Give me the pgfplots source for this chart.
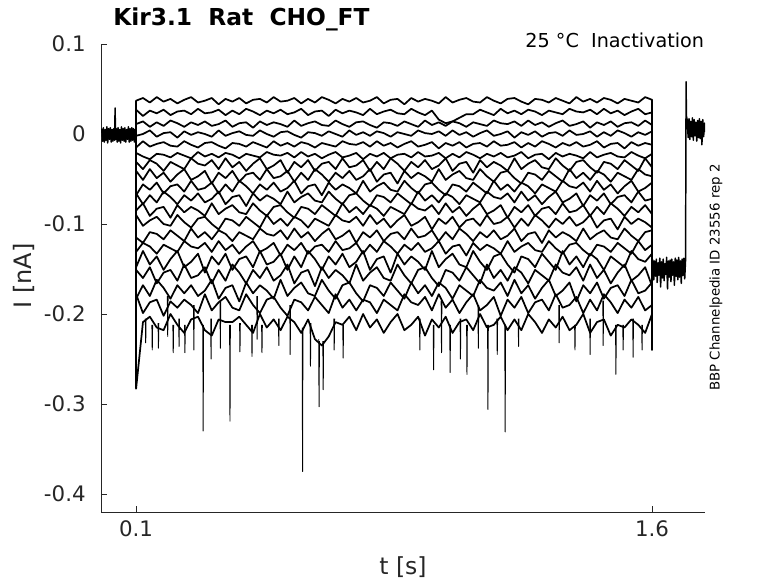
\documentclass[border=0pt]{standalone}
\usepackage{fontspec}
\setmainfont{DejaVu Sans}
\usepackage{pgfplots}
\usepackage{pgfplotstable}
\pgfplotsset{compat=1.18}
\definecolor{axgray}{RGB}{38,38,38}
\tikzset{trace/.style={black, line width=1.3pt, line join=round, mark=none}}

\pgfplotstableread{
t s1 s2 s3 s4 s5 s6 s7 s8 s9 s10 s11 s12 s13 s14 s15 s16 s17 s18 s19
0.10 0 0 0 0 0 0 0 0 0 0 0 0 0 0 0 0 0 0 0
0.10 0.037 0.027 0.011 -0.002 -0.015 -0.021 -0.031 -0.041 -0.068 -0.066 -0.085 -0.090 -0.115 -0.131 -0.148 -0.151 -0.183 -0.178 -0.283
0.12 0.040 0.020 0.014 0.000 -0.008 -0.025 -0.039 -0.051 -0.056 -0.078 -0.077 -0.102 -0.121 -0.121 -0.130 -0.160 -0.168 -0.199 -0.209
0.14 0.035 0.026 0.008 0.004 -0.014 -0.028 -0.029 -0.039 -0.062 -0.068 -0.091 -0.096 -0.109 -0.125 -0.145 -0.148 -0.180 -0.187 -0.203
0.16 0.041 0.023 0.013 -0.003 -0.011 -0.022 -0.033 -0.049 -0.054 -0.076 -0.083 -0.092 -0.111 -0.133 -0.136 -0.166 -0.162 -0.184 -0.215
0.18 0.036 0.027 0.009 0.001 -0.009 -0.023 -0.041 -0.043 -0.066 -0.064 -0.081 -0.100 -0.117 -0.123 -0.151 -0.154 -0.171 -0.202 -0.218
0.20 0.039 0.021 0.015 0.002 -0.013 -0.026 -0.031 -0.053 -0.058 -0.070 -0.093 -0.102 -0.107 -0.127 -0.139 -0.151 -0.183 -0.186 -0.200
0.22 0.034 0.025 0.012 -0.004 -0.014 -0.021 -0.035 -0.045 -0.056 -0.078 -0.079 -0.090 -0.113 -0.131 -0.130 -0.163 -0.168 -0.193 -0.212
0.24 0.038 0.026 0.008 0.003 -0.008 -0.024 -0.039 -0.039 -0.064 -0.068 -0.087 -0.098 -0.119 -0.119 -0.148 -0.145 -0.177 -0.184 -0.221
0.26 0.041 0.022 0.013 -0.001 -0.012 -0.027 -0.027 -0.051 -0.052 -0.074 -0.081 -0.104 -0.105 -0.125 -0.142 -0.160 -0.168 -0.190 -0.206
0.28 0.035 0.028 0.010 0.002 -0.015 -0.020 -0.033 -0.047 -0.062 -0.066 -0.085 -0.094 -0.115 -0.127 -0.133 -0.157 -0.180 -0.199 -0.203
0.30 0.037 0.023 0.014 0.000 -0.010 -0.025 -0.035 -0.041 -0.060 -0.076 -0.091 -0.092 -0.109 -0.121 -0.154 -0.148 -0.174 -0.178 -0.218
0.32 0.040 0.024 0.009 -0.003 -0.009 -0.022 -0.029 -0.055 -0.054 -0.072 -0.077 -0.100 -0.117 -0.131 -0.136 -0.166 -0.162 -0.196 -0.224
0.34 0.033 0.027 0.011 0.004 -0.013 -0.026 -0.039 -0.043 -0.066 -0.064 -0.089 -0.106 -0.107 -0.119 -0.145 -0.151 -0.183 -0.187 -0.206
0.36 0.039 0.021 0.015 -0.002 -0.016 -0.021 -0.027 -0.049 -0.056 -0.078 -0.083 -0.094 -0.111 -0.129 -0.133 -0.163 -0.171 -0.181 -0.209
0.38 0.036 0.026 0.008 0.001 -0.010 -0.023 -0.037 -0.041 -0.064 -0.070 -0.079 -0.096 -0.119 -0.123 -0.151 -0.145 -0.168 -0.193 -0.209
0.40 0.040 0.022 0.012 0.003 -0.011 -0.027 -0.031 -0.053 -0.052 -0.068 -0.087 -0.102 -0.109 -0.133 -0.139 -0.154 -0.186 -0.196 -0.203
0.42 0.034 0.028 0.013 -0.001 -0.014 -0.022 -0.041 -0.045 -0.058 -0.080 -0.089 -0.092 -0.113 -0.125 -0.136 -0.166 -0.165 -0.178 -0.212
0.44 0.038 0.025 0.007 -0.002 -0.009 -0.024 -0.033 -0.043 -0.066 -0.066 -0.077 -0.098 -0.117 -0.119 -0.148 -0.151 -0.177 -0.190 -0.221
0.46 0.039 0.021 0.014 0.004 -0.012 -0.026 -0.027 -0.051 -0.056 -0.074 -0.085 -0.104 -0.105 -0.131 -0.130 -0.160 -0.168 -0.199 -0.200
0.48 0.035 0.026 0.010 0.000 -0.015 -0.020 -0.039 -0.039 -0.062 -0.068 -0.091 -0.090 -0.111 -0.127 -0.145 -0.148 -0.174 -0.184 -0.215
0.50 0.041 0.023 0.013 -0.003 -0.008 -0.023 -0.035 -0.049 -0.054 -0.072 -0.081 -0.100 -0.113 -0.121 -0.142 -0.163 -0.183 -0.181 -0.206
0.52 0.036 0.027 0.011 0.002 -0.013 -0.024 -0.029 -0.047 -0.064 -0.078 -0.079 -0.094 -0.107 -0.135 -0.133 -0.157 -0.162 -0.193 -0.218
0.54 0.037 0.022 0.008 0.003 -0.010 -0.021 -0.043 -0.041 -0.060 -0.064 -0.087 -0.102 -0.117 -0.123 -0.151 -0.145 -0.180 -0.202 -0.203
0.56 0.040 0.024 0.015 -0.001 -0.014 -0.026 -0.031 -0.053 -0.052 -0.076 -0.093 -0.092 -0.105 -0.129 -0.136 -0.166 -0.171 -0.184 -0.209
0.58 0.034 0.028 0.009 -0.004 -0.009 -0.020 -0.037 -0.043 -0.066 -0.070 -0.081 -0.096 -0.115 -0.121 -0.148 -0.154 -0.165 -0.187 -0.221
0.60 0.039 0.021 0.012 0.002 -0.011 -0.025 -0.029 -0.051 -0.058 -0.066 -0.083 -0.104 -0.109 -0.133 -0.130 -0.151 -0.177 -0.196 -0.206
0.62 0.035 0.025 0.014 0.001 -0.015 -0.022 -0.041 -0.039 -0.056 -0.074 -0.089 -0.094 -0.119 -0.125 -0.139 -0.169 -0.180 -0.181 -0.228
0.64 0.041 0.026 0.010 -0.002 -0.010 -0.027 -0.033 -0.045 -0.068 -0.076 -0.079 -0.098 -0.111 -0.123 -0.151 -0.148 -0.162 -0.190 -0.235
0.66 0.038 0.020 0.009 0.003 -0.012 -0.023 -0.031 -0.053 -0.054 -0.064 -0.085 -0.102 -0.105 -0.131 -0.136 -0.160 -0.174 -0.199 -0.225
0.68 0.034 0.027 0.015 0.000 -0.014 -0.020 -0.039 -0.043 -0.062 -0.072 -0.091 -0.090 -0.117 -0.119 -0.145 -0.151 -0.183 -0.178 -0.209
0.70 0.039 0.023 0.011 -0.003 -0.008 -0.026 -0.027 -0.049 -0.056 -0.078 -0.077 -0.096 -0.113 -0.129 -0.133 -0.157 -0.168 -0.193 -0.212
0.72 0.036 0.026 0.008 0.004 -0.011 -0.024 -0.037 -0.041 -0.060 -0.068 -0.087 -0.098 -0.107 -0.127 -0.148 -0.166 -0.165 -0.184 -0.203
0.74 0.040 0.024 0.013 -0.001 -0.012 -0.021 -0.035 -0.051 -0.066 -0.066 -0.081 -0.092 -0.121 -0.121 -0.142 -0.145 -0.177 -0.196 -0.218
0.76 0.035 0.021 0.014 0.002 -0.009 -0.028 -0.029 -0.047 -0.052 -0.074 -0.089 -0.102 -0.109 -0.133 -0.130 -0.163 -0.186 -0.184 -0.200
0.78 0.037 0.028 0.010 -0.002 -0.014 -0.022 -0.041 -0.039 -0.064 -0.080 -0.079 -0.090 -0.115 -0.123 -0.151 -0.154 -0.168 -0.187 -0.215
0.80 0.041 0.022 0.007 0.003 -0.008 -0.025 -0.031 -0.053 -0.058 -0.068 -0.083 -0.100 -0.107 -0.131 -0.139 -0.148 -0.171 -0.199 -0.206
0.82 0.034 0.025 0.013 0.001 -0.013 -0.021 -0.039 -0.045 -0.054 -0.070 -0.091 -0.094 -0.119 -0.119 -0.136 -0.160 -0.180 -0.184 -0.221
0.84 0.038 0.027 0.012 -0.003 -0.010 -0.027 -0.027 -0.043 -0.062 -0.076 -0.081 -0.104 -0.111 -0.125 -0.154 -0.163 -0.165 -0.190 -0.209
0.86 0.039 0.023 0.009 0.002 -0.015 -0.023 -0.033 -0.055 -0.064 -0.066 -0.085 -0.096 -0.109 -0.133 -0.133 -0.145 -0.174 -0.196 -0.200
0.88 0.033 0.022 0.014 0.000 -0.011 -0.022 -0.041 -0.041 -0.052 -0.072 -0.089 -0.090 -0.117 -0.123 -0.145 -0.157 -0.183 -0.178 -0.218
0.90 0.040 0.028 0.011 -0.002 -0.008 -0.026 -0.031 -0.049 -0.060 -0.078 -0.077 -0.102 -0.105 -0.129 -0.136 -0.166 -0.165 -0.187 -0.212
0.92 0.036 0.024 0.008 0.004 -0.014 -0.020 -0.037 -0.043 -0.066 -0.064 -0.083 -0.098 -0.115 -0.121 -0.142 -0.151 -0.177 -0.190 -0.203
0.94 0.039 0.021 0.015 0.001 -0.012 -0.025 -0.029 -0.047 -0.056 -0.074 -0.085 -0.092 -0.113 -0.131 -0.151 -0.148 -0.168 -0.181 -0.224
0.96 0.037 0.026 0.010 0.000 -0.009 -0.024 -0.039 -0.053 -0.054 -0.068 -0.079 -0.106 -0.107 -0.127 -0.130 -0.160 -0.180 -0.196 -0.206
0.98 0.034 0.016 0.013 0.003 -0.016 -0.021 -0.035 -0.039 -0.062 -0.076 -0.089 -0.094 -0.119 -0.119 -0.148 -0.169 -0.165 -0.178 -0.215
1.00 0.041 0.012 0.009 -0.002 -0.010 -0.027 -0.027 -0.051 -0.068 -0.066 -0.077 -0.100 -0.109 -0.133 -0.139 -0.151 -0.171 -0.193 -0.203
1.02 0.035 0.014 0.014 0.004 -0.013 -0.022 -0.041 -0.045 -0.056 -0.070 -0.087 -0.092 -0.117 -0.125 -0.133 -0.154 -0.183 -0.184 -0.221
1.04 0.038 0.018 0.012 -0.001 -0.009 -0.026 -0.033 -0.041 -0.058 -0.078 -0.081 -0.104 -0.105 -0.123 -0.145 -0.163 -0.168 -0.199 -0.209
1.06 0.040 0.022 0.008 0.002 -0.015 -0.020 -0.031 -0.049 -0.064 -0.068 -0.091 -0.096 -0.111 -0.135 -0.148 -0.148 -0.174 -0.187 -0.206
1.08 0.036 0.022 0.013 -0.003 -0.011 -0.023 -0.043 -0.051 -0.054 -0.072 -0.083 -0.094 -0.119 -0.121 -0.130 -0.157 -0.180 -0.178 -0.218
1.10 0.035 0.027 0.011 0.001 -0.010 -0.027 -0.029 -0.039 -0.060 -0.076 -0.077 -0.102 -0.109 -0.129 -0.142 -0.166 -0.162 -0.196 -0.200
1.12 0.041 0.024 0.009 0.004 -0.014 -0.022 -0.037 -0.047 -0.066 -0.064 -0.089 -0.090 -0.115 -0.123 -0.151 -0.145 -0.171 -0.190 -0.215
1.14 0.037 0.021 0.015 -0.002 -0.008 -0.025 -0.031 -0.053 -0.052 -0.070 -0.085 -0.100 -0.107 -0.127 -0.136 -0.160 -0.174 -0.181 -0.212
1.16 0.034 0.028 0.012 0.000 -0.013 -0.021 -0.035 -0.043 -0.062 -0.072 -0.079 -0.098 -0.117 -0.133 -0.133 -0.151 -0.165 -0.202 -0.203
1.18 0.039 0.023 0.011 0.003 -0.012 -0.026 -0.041 -0.041 -0.056 -0.066 -0.093 -0.092 -0.113 -0.119 -0.145 -0.163 -0.180 -0.184 -0.218
1.20 0.040 0.026 0.014 -0.004 -0.009 -0.024 -0.027 -0.049 -0.064 -0.076 -0.081 -0.104 -0.105 -0.131 -0.154 -0.148 -0.162 -0.193 -0.206
1.22 0.036 0.022 0.009 0.002 -0.015 -0.020 -0.039 -0.055 -0.054 -0.064 -0.087 -0.094 -0.119 -0.125 -0.136 -0.154 -0.177 -0.181 -0.218
1.24 0.033 0.027 0.015 -0.001 -0.010 -0.027 -0.033 -0.043 -0.058 -0.074 -0.079 -0.102 -0.111 -0.121 -0.139 -0.166 -0.168 -0.199 -0.200
1.26 0.039 0.025 0.010 0.003 -0.014 -0.023 -0.029 -0.045 -0.066 -0.068 -0.091 -0.090 -0.109 -0.129 -0.148 -0.151 -0.183 -0.187 -0.209
1.28 0.038 0.021 0.013 -0.003 -0.008 -0.022 -0.037 -0.051 -0.056 -0.078 -0.083 -0.096 -0.121 -0.131 -0.133 -0.157 -0.171 -0.184 -0.221
1.30 0.035 0.026 0.008 0.001 -0.011 -0.028 -0.039 -0.041 -0.060 -0.070 -0.081 -0.104 -0.107 -0.119 -0.142 -0.163 -0.162 -0.196 -0.206
1.32 0.040 0.024 0.012 0.002 -0.015 -0.021 -0.027 -0.047 -0.064 -0.064 -0.089 -0.094 -0.115 -0.127 -0.151 -0.145 -0.180 -0.178 -0.215
1.34 0.037 0.022 0.015 -0.002 -0.010 -0.025 -0.035 -0.053 -0.052 -0.076 -0.077 -0.100 -0.109 -0.133 -0.130 -0.154 -0.174 -0.193 -0.203
1.36 0.034 0.028 0.009 0.004 -0.013 -0.022 -0.041 -0.039 -0.058 -0.072 -0.087 -0.092 -0.113 -0.123 -0.145 -0.157 -0.165 -0.190 -0.218
1.38 0.041 0.025 0.011 -0.001 -0.009 -0.024 -0.031 -0.049 -0.060 -0.066 -0.085 -0.102 -0.119 -0.121 -0.136 -0.148 -0.186 -0.181 -0.212
1.40 0.036 0.024 0.014 0.000 -0.014 -0.027 -0.029 -0.043 -0.054 -0.080 -0.079 -0.098 -0.105 -0.129 -0.148 -0.163 -0.168 -0.199 -0.200
1.42 0.039 0.027 0.007 0.003 -0.012 -0.020 -0.037 -0.051 -0.064 -0.068 -0.091 -0.090 -0.117 -0.135 -0.133 -0.145 -0.177 -0.184 -0.221
1.44 0.035 0.022 0.013 -0.003 -0.008 -0.026 -0.043 -0.041 -0.052 -0.074 -0.081 -0.104 -0.111 -0.123 -0.139 -0.160 -0.165 -0.196 -0.209
1.46 0.040 0.028 0.010 0.002 -0.015 -0.023 -0.031 -0.045 -0.062 -0.066 -0.089 -0.096 -0.107 -0.125 -0.151 -0.151 -0.183 -0.178 -0.206
1.48 0.038 0.023 0.014 -0.002 -0.011 -0.021 -0.033 -0.053 -0.056 -0.078 -0.077 -0.094 -0.115 -0.131 -0.136 -0.166 -0.171 -0.187 -0.224
1.50 0.034 0.026 0.008 0.004 -0.010 -0.025 -0.039 -0.043 -0.066 -0.070 -0.083 -0.106 -0.117 -0.121 -0.142 -0.154 -0.168 -0.199 -0.212
1.52 0.039 0.021 0.012 0.001 -0.016 -0.026 -0.029 -0.047 -0.058 -0.068 -0.091 -0.092 -0.105 -0.127 -0.148 -0.145 -0.180 -0.184 -0.215
1.54 0.037 0.025 0.013 -0.003 -0.009 -0.020 -0.035 -0.051 -0.052 -0.076 -0.081 -0.100 -0.113 -0.133 -0.130 -0.163 -0.162 -0.193 -0.206
1.56 0.035 0.028 0.009 0.002 -0.013 -0.024 -0.041 -0.039 -0.064 -0.064 -0.087 -0.094 -0.119 -0.119 -0.139 -0.157 -0.177 -0.181 -0.212
1.58 0.041 0.022 0.015 -0.001 -0.010 -0.027 -0.027 -0.045 -0.060 -0.074 -0.079 -0.098 -0.109 -0.129 -0.142 -0.148 -0.174 -0.196 -0.221
1.60 0.038 0.024 0.010 0.003 -0.012 -0.022 -0.037 -0.047 -0.054 -0.072 -0.089 -0.104 -0.107 -0.123 -0.133 -0.169 -0.165 -0.190 -0.200
1.60 -0.15 -0.15 -0.15 -0.15 -0.15 -0.15 -0.15 -0.15 -0.15 -0.15 -0.15 -0.15 -0.15 -0.15 -0.15 -0.15 -0.15 -0.15 -0.24
1.60 -0.15 -0.15 -0.15 -0.15 -0.15 -0.15 -0.15 -0.15 -0.15 -0.15 -0.15 -0.15 -0.15 -0.15 -0.15 -0.15 -0.15 -0.15 -0.15
}\sweeps

\pgfplotstableread{
t v
0.0000 0.006
0.0025 -0.008
0.0050 0.007
0.0075 -0.009
0.0100 0.005
0.0125 -0.007
0.0150 0.008
0.0175 -0.010
0.0200 0.006
0.0225 -0.006
0.0250 0.007
0.0275 -0.009
0.0300 0.005
0.0325 -0.008
0.0350 0.006
0.0375 -0.007
0.0390 0.029
0.0405 -0.006
0.0425 0.006
0.0450 -0.009
0.0475 0.007
0.0500 -0.008
0.0525 0.005
0.0550 -0.010
0.0575 0.008
0.0600 -0.007
0.0625 0.006
0.0650 -0.008
0.0675 0.007
0.0700 -0.009
0.0725 0.005
0.0750 -0.006
0.0775 0.008
0.0800 -0.009
0.0825 0.006
0.0850 -0.008
0.0875 0.007
0.0900 -0.007
0.0925 0.006
0.0950 -0.009
0.0975 0.005
0.1000 0.000
}\holdleft

\pgfplotstableread{
t v
1.6000 -0.150
1.6025 -0.140
1.6050 -0.162
1.6075 -0.141
1.6100 -0.158
1.6125 -0.139
1.6150 -0.165
1.6175 -0.143
1.6200 -0.157
1.6225 -0.138
1.6250 -0.170
1.6275 -0.142
1.6300 -0.160
1.6325 -0.139
1.6350 -0.163
1.6375 -0.144
1.6400 -0.156
1.6425 -0.137
1.6450 -0.172
1.6475 -0.141
1.6500 -0.159
1.6525 -0.140
1.6550 -0.164
1.6575 -0.139
1.6600 -0.157
1.6625 -0.142
1.6650 -0.168
1.6675 -0.138
1.6700 -0.158
1.6725 -0.140
1.6750 -0.162
1.6775 -0.137
1.6800 -0.159
1.6825 -0.141
1.6850 -0.166
1.6875 -0.139
1.6900 -0.157
1.6925 -0.138
1.6950 -0.161
1.6975 -0.140
1.6990 0.058
1.7000 0.020
1.7025 0.015
1.7050 -0.004
1.7075 0.017
1.7100 -0.006
1.7125 0.014
1.7150 -0.003
1.7175 0.018
1.7200 -0.007
1.7225 0.016
1.7250 -0.002
1.7275 0.013
1.7300 -0.008
1.7325 0.015
1.7350 -0.004
1.7375 0.017
1.7400 -0.005
1.7425 0.014
1.7450 -0.012
1.7475 0.016
1.7500 -0.003
1.7525 0.012
1.7540 0.002
}\tail

\pgfplotstableread{
t v
0.127 -0.205
0.128 -0.232
0.129 -0.205
0.128 nan
0.146 -0.212
0.147 -0.240
0.148 -0.212
0.147 nan
0.164 -0.210
0.165 -0.238
0.166 -0.210
0.165 nan
0.191 -0.180
0.192 -0.225
0.193 -0.180
0.192 nan
0.207 -0.212
0.208 -0.243
0.209 -0.212
0.208 nan
0.224 -0.205
0.225 -0.236
0.226 -0.205
0.225 nan
0.241 -0.212
0.242 -0.243
0.243 -0.212
0.242 nan
0.267 -0.190
0.268 -0.240
0.269 -0.190
0.268 nan
0.294 -0.212
0.295 -0.330
0.296 -0.212
0.295 nan
0.317 -0.205
0.318 -0.250
0.319 -0.205
0.318 nan
0.344 -0.185
0.345 -0.238
0.346 -0.185
0.345 nan
0.372 -0.212
0.373 -0.319
0.374 -0.212
0.373 nan
0.401 -0.210
0.402 -0.242
0.403 -0.210
0.402 nan
0.436 -0.212
0.437 -0.247
0.438 -0.212
0.437 nan
0.451 -0.180
0.452 -0.228
0.453 -0.180
0.452 nan
0.465 -0.212
0.466 -0.243
0.467 -0.212
0.466 nan
0.514 -0.205
0.515 -0.235
0.516 -0.205
0.515 nan
0.547 -0.190
0.548 -0.245
0.549 -0.190
0.548 nan
0.583 -0.215
0.584 -0.375
0.585 -0.215
0.584 nan
0.606 -0.210
0.607 -0.258
0.608 -0.210
0.607 nan
0.631 -0.228
0.632 -0.303
0.633 -0.230
0.632 nan
0.643 -0.230
0.644 -0.284
0.645 -0.230
0.644 nan
0.675 -0.205
0.676 -0.240
0.677 -0.205
0.676 nan
0.701 -0.212
0.702 -0.249
0.703 -0.212
0.702 nan
0.924 -0.205
0.925 -0.240
0.926 -0.205
0.925 nan
0.964 -0.212
0.965 -0.262
0.966 -0.212
0.965 nan
0.987 -0.185
0.988 -0.243
0.989 -0.185
0.988 nan
1.012 -0.212
1.013 -0.265
1.014 -0.212
1.013 nan
1.042 -0.205
1.043 -0.250
1.044 -0.205
1.043 nan
1.061 -0.212
1.062 -0.267
1.063 -0.212
1.062 nan
1.094 -0.190
1.095 -0.238
1.096 -0.190
1.095 nan
1.122 -0.212
1.123 -0.306
1.124 -0.212
1.123 nan
1.149 -0.205
1.150 -0.245
1.151 -0.205
1.150 nan
1.172 -0.212
1.173 -0.331
1.174 -0.212
1.173 nan
1.211 -0.205
1.212 -0.236
1.213 -0.205
1.212 nan
1.329 -0.190
1.330 -0.232
1.331 -0.190
1.330 nan
1.375 -0.212
1.376 -0.240
1.377 -0.212
1.376 nan
1.419 -0.205
1.420 -0.245
1.421 -0.205
1.420 nan
1.457 -0.185
1.458 -0.235
1.459 -0.185
1.458 nan
1.494 -0.212
1.495 -0.267
1.496 -0.212
1.495 nan
1.515 -0.212
1.516 -0.240
1.517 -0.212
1.516 nan
1.544 -0.205
1.545 -0.248
1.546 -0.205
1.545 nan
1.570 -0.212
1.571 -0.240
1.572 -0.212
}\spikes

\begin{document}
\begin{tikzpicture}
\useasboundingbox (-75.75pt,-53.25pt) rectangle (507.75pt,384pt);
\begin{axis}[
  at={(0pt,0pt)}, anchor=south west,
  scale only axis, width=453pt, height=351pt,
  xmin=-0.002, xmax=1.754, ymin=-0.42, ymax=0.1,
  axis lines*=left,
  axis line style={draw=axgray, line width=0.5pt},
  xtick={0.1,1.6}, xticklabels={0.1,1.6},
  ytick={-0.4,-0.3,-0.2,-0.1,0,0.1},
  yticklabels={-0.4,-0.3,-0.2,-0.1,0,0.1},
  tick align=inside, major tick length=4.5pt,
  tick style={draw=axgray, line width=0.5pt},
  ticklabel style={font=\fontsize{16}{19}\selectfont, text=axgray},
  yticklabel style={xshift=-8pt},
  xticklabel style={yshift=-3pt},
  unbounded coords=jump,
]
\pgfplotsinvokeforeach{1,...,19}{
  \addplot[trace] table[x=t, y=s#1]{\sweeps};
}
\addplot[trace, line width=1.1pt] table[x=t, y=v]{\holdleft};
\addplot[trace, line width=1.1pt] table[x=t, y=v]{\tail};
\addplot[trace, line width=0.7pt] table[x=t, y=v]{\spikes};
\end{axis}
\node[anchor=base west, inner sep=0pt, font=\fontsize{17.5}{21}\selectfont\bfseries] at (9pt,364.5pt) {Kir3.1\ \ Rat\ \ CHO\_FT};
\node[anchor=base east, inner sep=0pt, font=\fontsize{14.4}{17}\selectfont] at (452.5pt,348.5pt) {25 °C\ \ Inactivation};
\node[anchor=center, rotate=90, inner sep=0pt, font=\fontsize{10}{12}\selectfont] at (461.25pt,175.9pt) {BBP Channelpedia ID 23556 rep 2};
\node[anchor=center, rotate=90, inner sep=0pt, font=\fontsize{18}{21}\selectfont, text=axgray] at (-57.75pt,177pt) {I [nA]};
\node[anchor=center, inner sep=0pt, font=\fontsize{17.6}{21}\selectfont, text=axgray] at (226.5pt,-41.25pt) {t [s]};
\end{tikzpicture}
\end{document}
